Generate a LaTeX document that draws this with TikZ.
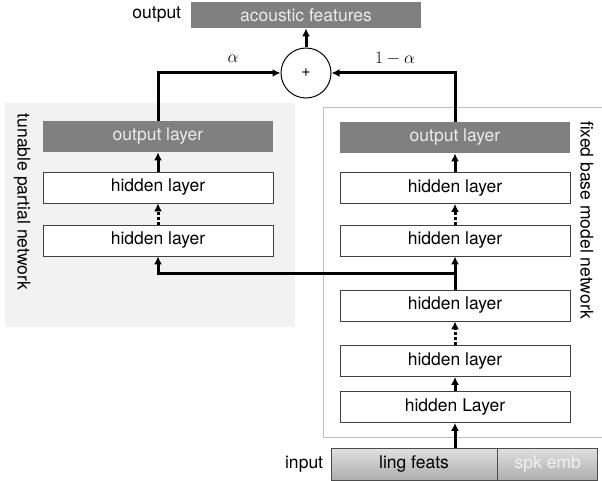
\documentclass[tikz,border=0pt]{standalone}
\usepackage{fontspec}
\setmainfont{TeX Gyre Heros}
\usetikzlibrary{arrows.meta,positioning}

\begin{document}
\begin{tikzpicture}[x=1pt,y=-1pt,line width=3pt,font=\fontsize{17.5}{20}\selectfont]

\tikzset{layer/.style={draw=black!75,line width=0.8pt,fill=white,minimum width=230pt,minimum height=31pt,inner sep=0pt},
outlayer/.style={layer,draw=none,fill=black!50,text=black!8},
%arrows between the layers
flow/.style={-{Latex[length=8pt,width=8pt]},line width=3pt},
skip/.style={flow,dash pattern=on 3pt off 2pt},
inbox/.style={draw=black!70,line width=0.8pt,top color=black!12,bottom color=black!32,minimum height=32pt,inner sep=0pt}}

\useasboundingbox (0,0) rectangle (602,481);

% the two networks
\fill [black!5] (5,103) rectangle (295,327);
\draw [black!25,line width=1pt] (602,108) -- (323,108) -- (323,437) -- (602,437);

\node [rotate=-90] (tunelbl) at (22,202) {tunable partial network};
\node [rotate=-90] (fixlbl) at (587,220) {fixed base model network};

\node [outlayer,minimum height=26pt] (acoustic) at (306,15) {acoustic features};
\node [left=8pt of acoustic,inner sep=0pt] (outlbl) {output};
\node [circle,draw,line width=1pt,minimum size=50pt,inner sep=0pt,font=\fontsize{16}{18}\selectfont] (plus) at (306,73) {+};

\node [outlayer] (lout) at (158,136.5) {output layer};
\node [layer] (lhid1) at (158,187.5) {hidden layer};
\node [layer] (lhid2) at (158,240.5) {hidden layer};

\node [outlayer] (rout) at (455,137.5) {output layer};
\node [layer] (rhid1) at (455,188) {hidden layer};
\node [layer] (rhid2) at (455,240.5) {hidden layer};
\node [layer] (rhid3) at (455,305.5) {hidden layer};
\node [layer] (rhid4) at (455,361) {hidden layer};
\node [layer] (rhid5) at (455,407) {hidden Layer};

\node [inbox,minimum width=166pt] (ling) at (414,464) {ling feats};
\node [inbox,minimum width=100pt,text=black!5,right=0pt of ling] (spk) {spk emb};
\node [left=6pt of ling,inner sep=0pt] (inlbl) {input};

\node [font=\fontsize{19}{22}\selectfont] (alpha) at (233,59) {$\alpha$};
\node [font=\fontsize{19}{22}\selectfont] (oneminus) at (395,59) {$1-\alpha$};

\draw [flow] (lout.north) |- (plus.west);
\draw [flow] (rout.north) |- (plus.east);
\draw [flow] (plus.north) -- (acoustic.south);

\draw [flow] (lhid1) -- (lout);
\draw [skip] (lhid2) -- (lhid1);

\draw [flow] (rhid1) -- (rout);
\draw [skip] (rhid2) -- (rhid1);
\draw [flow] (rhid3) -- (rhid2);
\draw [skip] (rhid4) -- (rhid3);
\draw [flow] (rhid5) -- (rhid4);
\draw [flow] (rhid5.south |- ling.north) -- (rhid5.south);

\coordinate (split) at (455,273);
\draw [flow] (split) -| (lhid2.south);

\end{tikzpicture}
\end{document}
